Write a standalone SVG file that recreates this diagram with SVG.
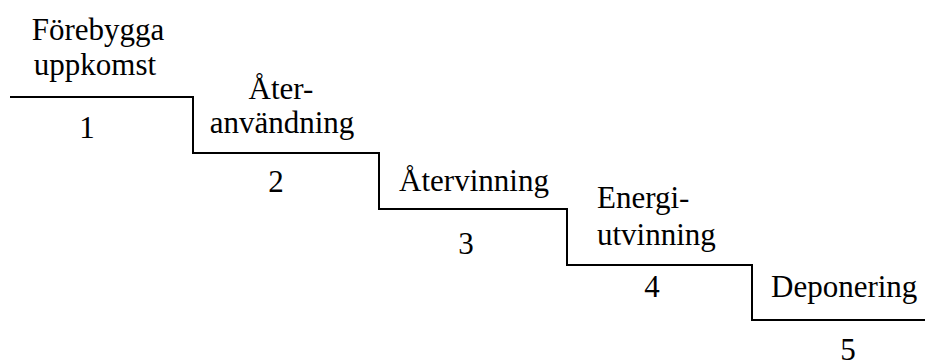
<svg xmlns="http://www.w3.org/2000/svg" width="925" height="363" viewBox="0 0 925 363">
  <style>
    .mid { text-anchor: middle; }
    .stair { fill: none; stroke: #000; stroke-width: 2; }
  </style>
  <rect width="925" height="363" fill="#fff"/>
  <!-- staircase outline -->
  <g id="connectors">
    <polyline class="stair" points="10,97 193,97 193,153 379,153 379,209 567,209 567,265 752,265 752,320 925,320"/>
  </g>
  <!-- step labels, all set in a Times-metric serif -->
  <g font-family="Liberation Serif" font-size="31" fill="#000">
    <g id="step1">
      <text class="mid" x="98" y="40">Förebygga</text>
      <text class="mid" x="95" y="75">uppkomst</text>
      <text class="mid" x="87" y="138">1</text>
    </g>
    <g id="step2">
      <text class="mid" x="281" y="99">Åter-</text>
      <text class="mid" x="282" y="133">användning</text>
      <text class="mid" x="276" y="192">2</text>
    </g>
    <g id="step3">
      <text class="mid" x="474" y="191">Återvinning</text>
      <text class="mid" x="466" y="254">3</text>
    </g>
    <g id="step4">
      <text x="597" y="208">Energi-</text>
      <text x="597" y="245">utvinning</text>
      <text class="mid" x="652" y="297">4</text>
    </g>
    <g id="step5">
      <text x="771" y="297">Deponering</text>
      <text class="mid" x="848" y="360">5</text>
    </g>
  </g>
</svg>
